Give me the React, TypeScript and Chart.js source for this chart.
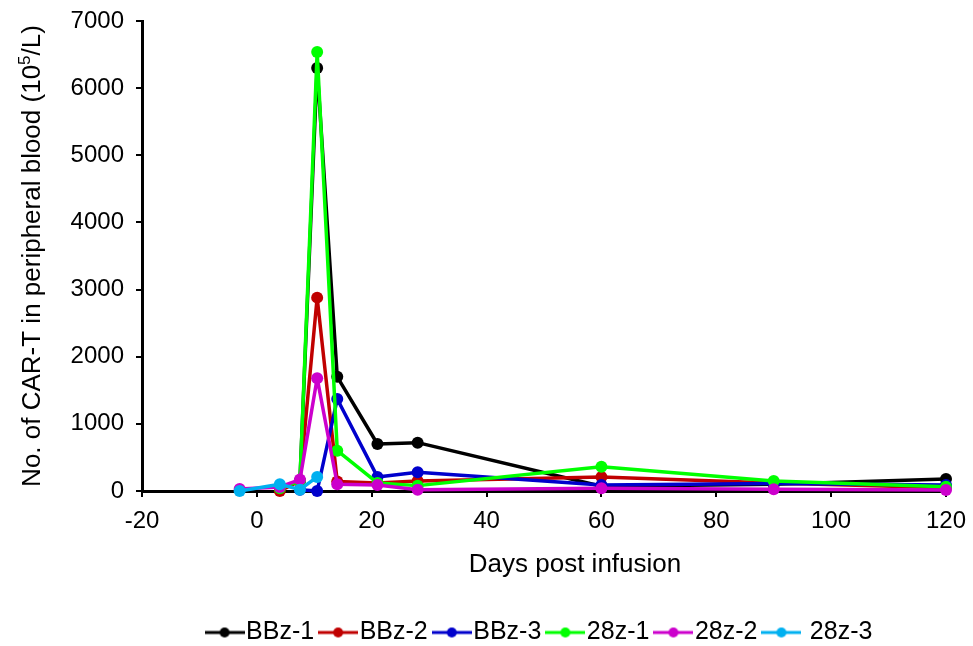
import React, { useEffect, useRef } from "react";
import { Chart, registerables } from "chart.js";

Chart.register(...registerables);

// ---- data ----
const days = [-3, 4, 7.5, 10.5, 14, 21, 28, 60, 90, 120];
const seriesNames = ["BBz-1", "BBz-2", "BBz-3", "28z-1", "28z-2", "28z-3"];
const bbz1 = [null, null, 150, 6300, 1700, 700, 720, 70, 100, 180];
const bbz2 = [null, 0, 150, 2880, 140, 120, 150, 210, 120, 50];
const bbz3 = [null, null, 20, 0, 1370, 210, 280, 90, 110, 90];
const z28_1 = [null, 40, 150, 6540, 600, 120, 80, 360, 150, 65];
const z28_2 = [30, 60, 170, 1680, 100, 90, 20, 40, 25, 15];
const z28_3 = [0, 100, 20, 210, null, null, null, null, null, null];
const seriesValues = [bbz1, bbz2, bbz3, z28_1, z28_2, z28_3];
const seriesColors = ["#000000", "#C00000", "#0000CC", "#00FF00", "#CC00CC", "#00B0F0"];
const xTicks = [-20, 0, 20, 40, 60, 80, 100, 120];
const yTicks = [0, 1000, 2000, 3000, 4000, 5000, 6000, 7000];
const xTitle = "Days post infusion";
const yTitleMain = "No. of CAR-T in peripheral blood (10";
const yTitleSup = "5";
const yTitleEnd = "/L)";

const FONT = "'Liberation Sans', Arial, Helvetica, sans-serif";

function makeIcon(color: string) {
  const c = document.createElement("canvas");
  c.width = 40;
  c.height = 12;
  const g = c.getContext("2d")!;
  g.strokeStyle = color;
  g.lineWidth = 3;
  g.beginPath();
  g.moveTo(0, 6);
  g.lineTo(40, 6);
  g.stroke();
  g.fillStyle = color;
  g.beginPath();
  g.arc(20, 6, 5, 0, Math.PI * 2);
  g.fill();
  return c;
}

const titlePlugin = {
  id: "axisTitles",
  afterDraw(chart: any) {
    const ctx = chart.ctx as CanvasRenderingContext2D;
    const { top, bottom } = chart.chartArea;
    ctx.save();
    ctx.fillStyle = "#000";
    ctx.font = `26px ${FONT}`;
    ctx.textAlign = "center";
    ctx.textBaseline = "middle";
    ctx.fillText(xTitle, 575, 565);

    ctx.translate(33, (top + bottom) / 2);
    ctx.rotate(-Math.PI / 2);
    ctx.textAlign = "left";
    const mainFont = `26px ${FONT}`;
    const supFont = `17px ${FONT}`;
    ctx.font = mainFont;
    const w1 = ctx.measureText(yTitleMain).width;
    const w3 = ctx.measureText(yTitleEnd).width;
    ctx.font = supFont;
    const w2 = ctx.measureText(yTitleSup).width;
    let x = -(w1 + w2 + w3) / 2;
    ctx.font = mainFont;
    ctx.fillText(yTitleMain, x, 0);
    x += w1;
    ctx.font = supFont;
    ctx.fillText(yTitleSup, x, -8);
    x += w2;
    ctx.font = mainFont;
    ctx.fillText(yTitleEnd, x, 0);
    ctx.restore();
  },
};

export default function App() {
  const ref = useRef<HTMLCanvasElement | null>(null);

  useEffect(() => {
    if (!ref.current) return;
    const icons = seriesColors.map(makeIcon);
    const datasets = seriesNames.map((name, i) => ({
      label: name,
      data: days
        .map((d, j) => ({ x: d, y: seriesValues[i][j] }))
        .filter((p) => p.y !== null),
      borderColor: seriesColors[i],
      backgroundColor: seriesColors[i],
      pointBackgroundColor: seriesColors[i],
      pointBorderColor: seriesColors[i],
      pointBorderWidth: 0,
      pointRadius: 6,
      borderWidth: 3.5,
      borderJoinStyle: "round" as any,
      tension: 0,
      fill: false,
      clip: false as any,
      order: seriesNames.length - i,
    }));

    const chart = new Chart(ref.current, {
      type: "line",
      data: { datasets: datasets as any },
      plugins: [titlePlugin],
      options: {
        animation: false,
        responsive: false,
        devicePixelRatio: 1,
        layout: { padding: { left: 40, right: 27, top: 21, bottom: 1 } },
        scales: {
          x: {
            type: "linear",
            min: -20,
            max: 120,
            afterFit: (s: any) => {
              s.height = 114;
            },
            afterBuildTicks: (s: any) => {
              s.ticks = xTicks.map((v) => ({ value: v }));
            },
            ticks: {
              color: "#000",
              font: { family: FONT, size: 24, lineHeight: 2.05 },
              padding: 0,
              maxRotation: 0,
              callback: (v: any) => String(v),
            },
            grid: {
              display: true,
              drawOnChartArea: false,
              drawTicks: true,
              tickLength: 6,
              color: "#000",
              lineWidth: 2,
            },
            border: { display: true, color: "#000", width: 3 },
          },
          y: {
            type: "linear",
            min: 0,
            max: 7000,
            afterFit: (s: any) => {
              s.width = 102;
            },
            afterBuildTicks: (s: any) => {
              s.ticks = yTicks.map((v) => ({ value: v }));
            },
            ticks: {
              color: "#000",
              font: { family: FONT, size: 24, lineHeight: 0.75 },
              padding: 12,
              callback: (v: any) => String(v),
            },
            grid: {
              display: true,
              drawOnChartArea: false,
              drawTicks: true,
              tickLength: 6,
              color: "#000",
              lineWidth: 2,
            },
            border: { display: true, color: "#000", width: 3 },
          },
        },
        plugins: {
          title: { display: false },
          tooltip: { enabled: false },
          legend: {
            display: true,
            position: "bottom",
            fullSize: false,
            labels: {
              usePointStyle: true,
              pointStyleWidth: 18,
              padding: 15,
              color: "#000",
              font: { family: FONT, size: 25 },
              generateLabels: (ch: any) => {
                const items = (Chart.defaults.plugins.legend.labels as any).generateLabels(ch);
                items.sort((a: any, b: any) => a.datasetIndex - b.datasetIndex);
                items.forEach((it: any) => {
                  it.pointStyle = icons[it.datasetIndex];
                  it.fontColor = "#000";
                  if (it.datasetIndex === seriesNames.length - 1) it.text = " " + it.text;
                });
                return items;
              },
            },
          },
        },
      },
    });
    return () => chart.destroy();
  }, []);

  return (
    <div
      style={{
        position: "fixed",
        left: 0,
        top: 0,
        width: 973,
        height: 646,
        overflow: "hidden",
        background: "#fff",
      }}
    >
      <canvas ref={ref} width={973} height={656} style={{ display: "block" }} />
    </div>
  );
}
